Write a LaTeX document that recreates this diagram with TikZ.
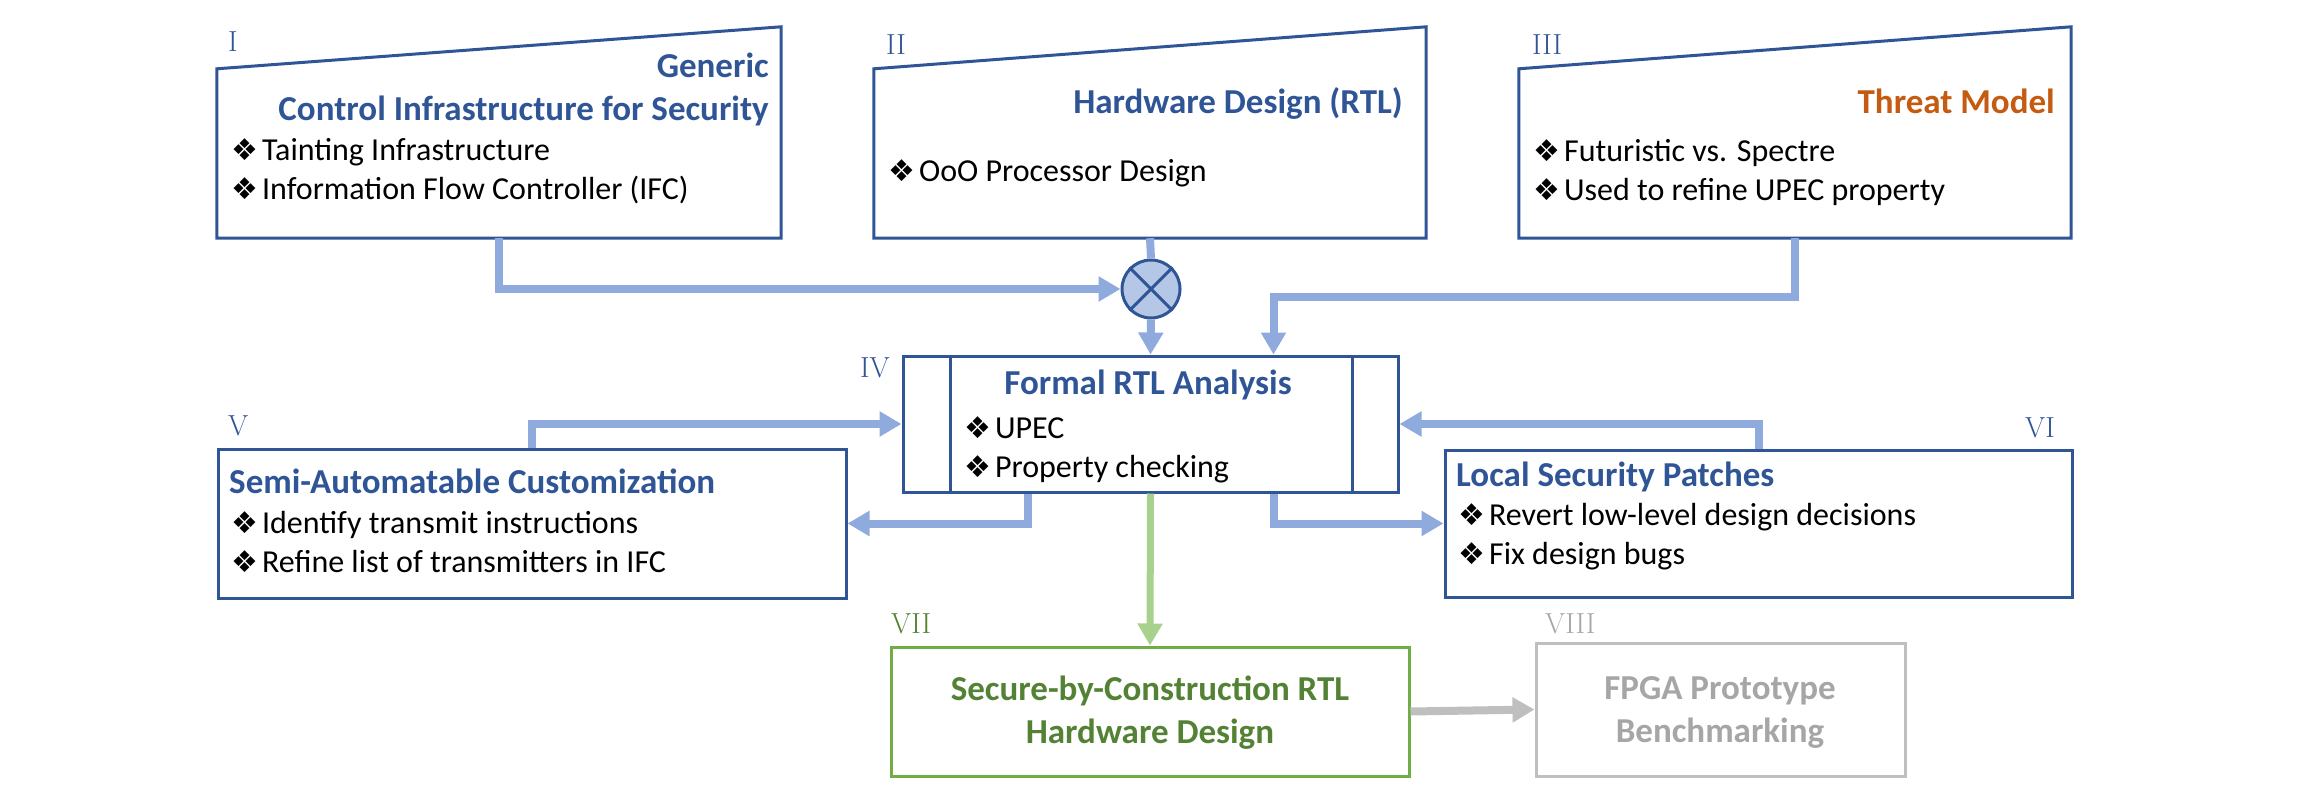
\documentclass[tikz,border=0pt]{standalone}
\usepackage{fontspec}
\setsansfont{Carlito}
\newfontfamily\dingfont{DejaVu Sans}
\usetikzlibrary{arrows.meta}

\definecolor{navy}{HTML}{2F5597}
\definecolor{pipe}{HTML}{8FAADC}
\definecolor{pipefill}{HTML}{B4C7E7}
\definecolor{rust}{HTML}{C55A11}
\definecolor{leaf}{HTML}{70AD47}
\definecolor{leafdark}{HTML}{548235}
\definecolor{leaflight}{HTML}{A9D18E}
\definecolor{ash}{HTML}{BFBFBF}
\definecolor{ashtext}{HTML}{A6A6A6}

\newcommand{\dia}{{\dingfont\fontsize{30}{30}\selectfont ❖}\hspace{4pt}}

\tikzset{
  slab/.style={minimum width=564pt, minimum height=169pt, inner sep=0pt},
  frame/.style={draw=navy, line width=3pt},
  head/.style={font=\sffamily\bfseries\fontsize{35}{42.5}\selectfont, text=navy, inner sep=0pt},
  bullets/.style={font=\sffamily\fontsize{32}{38.5}\selectfont, align=left, inner sep=0pt, anchor=base west},
  tag/.style={font=\rmfamily\fontsize{29}{29}\selectfont, text=navy, inner sep=0pt, anchor=base west},
  conn/.style={pipe, line width=8pt, -{Triangle[width=24pt,length=22pt]}},
}

\begin{document}
\begin{tikzpicture}[x=1pt, y=-1pt]
  \useasboundingbox (0,0) rectangle (2300,800);

  % sources (multi-line texts sit on their last baseline)
  \node[slab] (ctrl) at (499,153.5) {};
  \node[slab, minimum width=552pt] (hw) at (1150,153.5) {};
  \node[slab, minimum width=552pt] (threat) at (1795,153.5) {};
  \foreach \b in {ctrl,hw,threat}
    \draw[frame] (\b.north west) -- ([yshift=42pt]\b.north east) |- (\b.south west) -- cycle;

  \node[head, align=right, anchor=base east] (ctrlhead) at (769,120) {Generic\\Control Infrastructure for Security};
  \node[bullets] (ctrlitems) at (231,199) {\dia Tainting Infrastructure\\\dia Information Flow Controller (IFC)};
  \node[head, anchor=base east] (hwhead) at (1403,113) {Hardware Design (RTL)};
  \node[bullets] (hwitems) at (888,181) {\dia OoO Processor Design};
  \node[head, text=rust, anchor=base east] (threathead) at (2055,113) {Threat Model};
  \node[bullets] (threatitems) at (1533,200) {\dia Futuristic vs. Spectre\\\dia Used to refine UPEC property};

  \node[circle, draw=navy, fill=pipefill, line width=3pt, minimum size=58pt, inner sep=0pt] (mult) at (1151,289) {};
  \draw[navy, line width=3pt] (mult.north west) -- (mult.south east) (mult.north east) -- (mult.south west);

  % analysis
  \node[frame, minimum width=495pt, minimum height=136pt, inner sep=0pt] (formal) at (1150.5,424) {};
  \draw[frame] ([xshift=49pt]formal.north west) -- ([xshift=49pt]formal.south west)
    ([xshift=-47pt]formal.north east) -- ([xshift=-47pt]formal.south east);
  \node[head, anchor=base] (formalhead) at (1148,394) {Formal RTL Analysis};
  \node[bullets] (formalitems) at (964,477) {\dia UPEC\\\dia Property checking};

  \node[frame, minimum width=628pt, minimum height=149pt, inner sep=0pt] (custom) at (532,523.5) {};
  \node[head, anchor=base west] (customhead) at (229,493) {Semi-Automatable Customization};
  \node[bullets] (customitems) at (231,572) {\dia Identify transmit instructions\\\dia Refine list of transmitters in IFC};

  \node[frame, minimum width=627pt, minimum height=147pt, inner sep=0pt] (patch) at (1758.5,523.5) {};
  \node[head, anchor=base west] (patchhead) at (1456,486) {Local Security Patches};
  \node[bullets] (patchitems) at (1458,564) {\dia Revert low-level design decisions\\\dia Fix design bugs};

  % results
  \node[draw=leaf, line width=3pt, minimum width=518pt, minimum height=129pt, inner sep=0pt] (secure) at (1150,711.5) {};
  \node[head, text=leafdark, align=center, anchor=base] (securehead) at (1150,743) {Secure-by-Construction RTL\\Hardware Design};
  \node[draw=ash, line width=3pt, minimum width=369pt, minimum height=133pt, inner sep=0pt] (fpga) at (1720.5,709.5) {};
  \node[head, text=ashtext, align=center, anchor=base] (fpgahead) at (1720,742) {FPGA Prototype\\Benchmarking};

  % numbers
  \node[tag] (tI) at (228,52) {I};
  \node[tag] (tII) at (886,55) {II};
  \node[tag] (tIII) at (1532,55) {III};
  \node[tag] (tIV) at (860,377) {IV};
  \node[tag] (tV) at (228,435) {V};
  \node[tag, anchor=base east] (tVI) at (2055,437) {VI};
  \node[tag, text=leafdark] (tVII) at (891,633) {VII};
  \node[tag, text=ashtext] (tVIII) at (1545,633) {VIII};

  % flow
  \draw[conn] (ctrl.south) |- (mult.west);
  \draw[pipe, line width=8pt] (hw.south) -- (mult.north);
  \draw[conn] (mult.south) -- (formal.north);
  \draw[conn] (threat.south) -- ++(0,59) -| ([xshift=123pt]formal.north);
  \draw[conn] (custom.north) |- (formal.west);
  \draw[conn] (patch.north) |- (formal.east);
  \draw[conn] ([xshift=-123pt]formal.south) |- (custom.east);
  \draw[conn] ([xshift=123pt]formal.south) |- (patch.west);
  \draw[conn, leaflight, line width=7pt] (formal.south) -- (secure.north);
  \draw[conn, ash] (secure.east) -- (fpga.west);
\end{tikzpicture}
\end{document}
